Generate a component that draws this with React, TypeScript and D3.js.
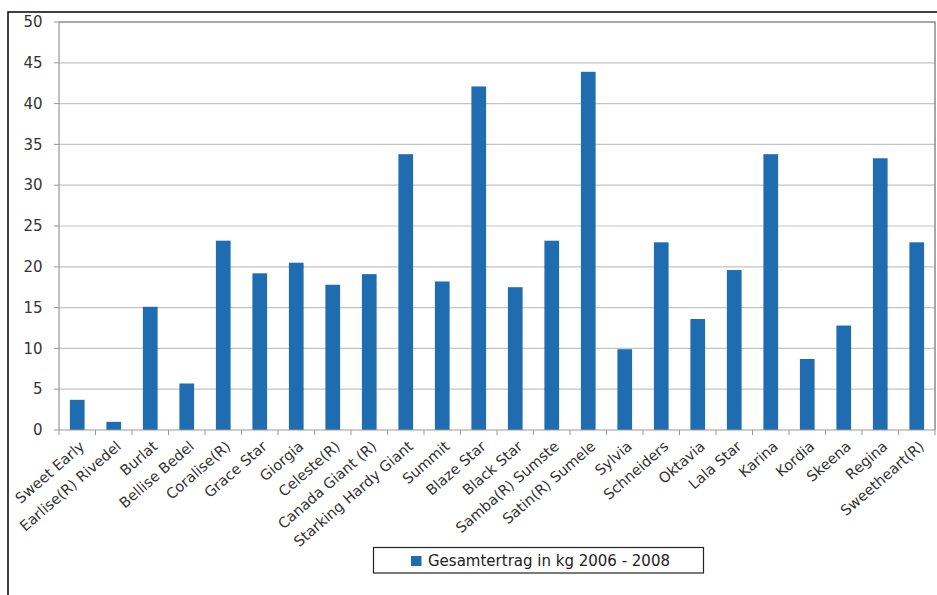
import React, { useEffect, useRef } from "react";
import * as d3 from "d3";

const categories = [
  "Sweet Early", "Earlise(R) Rivedel", "Burlat", "Bellise Bedel", "Coralise(R)",
  "Grace Star", "Giorgia", "Celeste(R)", "Canada Giant (R)", "Starking Hardy Giant",
  "Summit", "Blaze Star", "Black Star", "Samba(R) Sumste", "Satin(R) Sumele",
  "Sylvia", "Schneiders", "Oktavia", "Lala Star", "Karina",
  "Kordia", "Skeena", "Regina", "Sweetheart(R)",
];
const values = [
  3.7, 1.0, 15.1, 5.7, 23.2,
  19.2, 20.5, 17.8, 19.1, 33.8,
  18.2, 42.1, 17.5, 23.2, 43.9,
  9.9, 23.0, 13.6, 19.6, 33.8,
  8.7, 12.8, 33.3, 23.0,
];
const yTicks = [0, 5, 10, 15, 20, 25, 30, 35, 40, 45, 50];
const seriesName = "Gesamtertrag in kg 2006 - 2008";

const W = 937, H = 595;
const M = { left: 59, right: 935, top: 22, bottom: 430 };
const BAR = "#1f6cb1";
const FONT = "'DejaVu Sans', Verdana, sans-serif";

export default function App() {
  const ref = useRef<SVGSVGElement>(null);
  useEffect(() => {
    const svg = d3.select(ref.current);
    svg.selectAll("*").remove();
    const x = d3.scaleBand<string>().domain(categories).range([M.left, M.right]).padding(0);
    const y = d3.scaleLinear().domain([0, 50]).range([M.bottom, M.top]);

    // outer frame
    svg.append("path").attr("d", `M8,${H} L8,12 L${W},12`).attr("fill", "none").attr("stroke", "#000").attr("stroke-width", 1.5);

    // gridlines
    svg.append("g").selectAll("line").data(yTicks.filter(t => t > 0 && t < 50)).join("line")
      .attr("x1", M.left).attr("x2", M.right)
      .attr("y1", d => y(d)).attr("y2", d => y(d))
      .attr("stroke", "#c4c4c4").attr("stroke-width", 1.2);

    // plot border top/right
    svg.append("path").attr("d", `M${M.left},${y(50)} L${M.right},${y(50)} L${M.right},${M.bottom}`)
      .attr("fill", "none").attr("stroke", "#8a8a8a").attr("stroke-width", 1.5);

    // y tick marks and labels
    const yg = svg.append("g");
    yg.selectAll("line").data(yTicks).join("line")
      .attr("x1", M.left - 5).attr("x2", M.left).attr("y1", d => y(d)).attr("y2", d => y(d))
      .attr("stroke", "#999").attr("stroke-width", 1);
    yg.selectAll("text").data(yTicks).join("text")
      .attr("x", 42.5).attr("y", d => y(d)).attr("dy", "0.35em")
      .attr("text-anchor", "end").attr("font-family", FONT).attr("font-size", 15).attr("fill", "#333")
      .text(d => String(d));

    // bars
    const bw = 14.7;
    svg.append("g").selectAll("rect").data(values).join("rect")
      .attr("x", (d, i) => x(categories[i])! + x.bandwidth() / 2 - bw / 2)
      .attr("width", bw)
      .attr("y", d => y(d)).attr("height", d => y(0) - y(d))
      .attr("fill", BAR);

    // axes lines
    svg.append("line").attr("x1", M.left).attr("x2", M.left).attr("y1", M.top).attr("y2", M.bottom)
      .attr("stroke", "#999").attr("stroke-width", 1.2);
    svg.append("line").attr("x1", M.left).attr("x2", M.right).attr("y1", M.bottom).attr("y2", M.bottom)
      .attr("stroke", "#999").attr("stroke-width", 1.2);

    // x tick marks at band boundaries
    const bounds = categories.map(c => x(c)!).concat([M.right]);
    svg.append("g").selectAll("line").data(bounds).join("line")
      .attr("x1", d => d).attr("x2", d => d).attr("y1", M.bottom).attr("y2", M.bottom + 5)
      .attr("stroke", "#999").attr("stroke-width", 1);

    // x labels
    svg.append("g").selectAll("text").data(categories).join("text")
      .attr("transform", c => `translate(${x(c)! + x.bandwidth() / 2 + 5},${M.bottom + 14}) rotate(-41)`)
      .attr("text-anchor", "end").attr("dy", "0.35em")
      .attr("font-family", FONT).attr("font-size", 14.5).attr("fill", "#333")
      .text(c => c);

    // legend
    const lg = svg.append("g");
    lg.append("rect").attr("x", 373.5).attr("y", 547.5).attr("width", 330).attr("height", 25.5)
      .attr("fill", "#fff").attr("stroke", "#222").attr("stroke-width", 1.2);
    lg.append("rect").attr("x", 411).attr("y", 556).attr("width", 10.5).attr("height", 10).attr("fill", BAR);
    lg.append("text").attr("x", 428).attr("y", 561).attr("dy", "0.35em")
      .attr("font-family", FONT).attr("font-size", 15).attr("fill", "#222").text(seriesName);
  }, []);
  return (
    <div style={{ position: "absolute", left: 0, top: 0 }}>
      <svg ref={ref} width={W} height={H} style={{ display: "block", background: "#fff" }} />
    </div>
  );
}
